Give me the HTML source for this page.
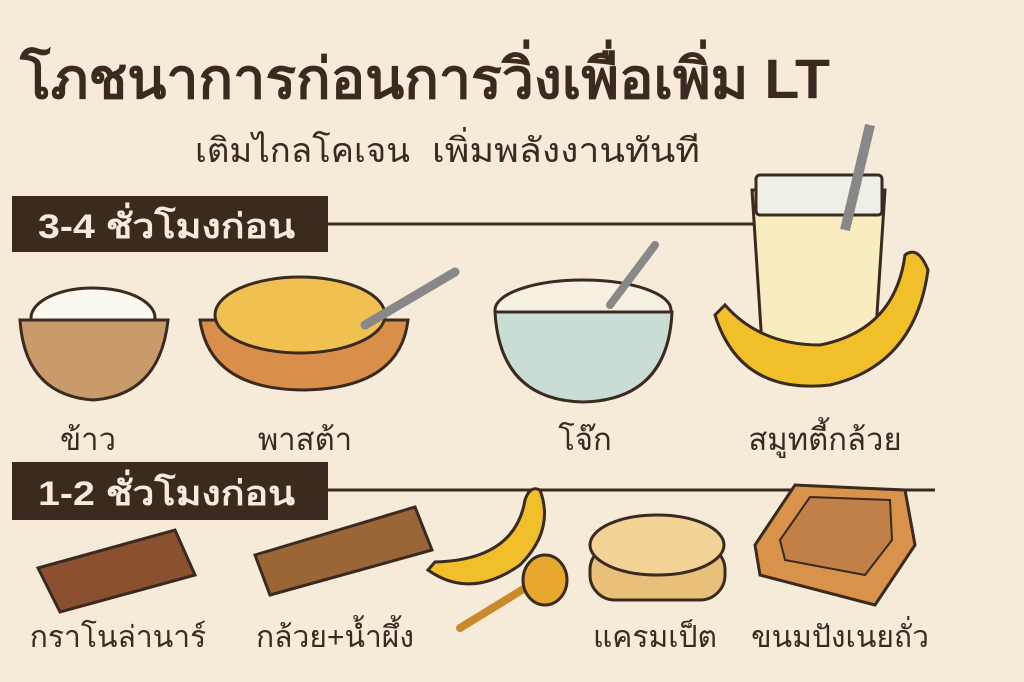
<!DOCTYPE html>
<html><head><meta charset="utf-8"><style>
html,body{margin:0;padding:0;background:#f6ebd9;}
svg{display:block}
text{font-family:"Liberation Sans","Noto Sans CJK SC","WenQuanYi Zen Hei",sans-serif;}
</style></head><body>
<svg width="1024" height="682" viewBox="0 0 1024 682" xmlns="http://www.w3.org/2000/svg">
<rect width="1024" height="682" fill="#f6ebd9"/>
<text x="20" y="98" font-size="56" font-weight="bold" fill="#3a2a1f" textLength="810" lengthAdjust="spacingAndGlyphs">โภชนาการก่อนการวิ่งเพื่อเพิ่ม LT</text>
<text x="195" y="162" font-size="34" fill="#3a2a1f" textLength="215" lengthAdjust="spacingAndGlyphs">เติมไกลโคเจน</text>
<text x="432" y="162" font-size="34" fill="#3a2a1f" textLength="268" lengthAdjust="spacingAndGlyphs">เพิ่มพลังงานทันที</text>

<line x1="320" y1="224" x2="760" y2="224" stroke="#3a2a1f" stroke-width="3"/>
<rect x="12" y="196" width="316" height="56" fill="#3b2a1f"/>
<text x="38" y="238" font-size="34" font-weight="bold" fill="#f6ebd9" textLength="257" lengthAdjust="spacingAndGlyphs">3-4 ชั่วโมงก่อน</text>
<line x1="320" y1="490" x2="935" y2="490" stroke="#3a2a1f" stroke-width="3"/>
<rect x="12" y="462" width="316" height="58" fill="#3b2a1f"/>
<text x="38" y="505" font-size="34" font-weight="bold" fill="#f6ebd9" textLength="257" lengthAdjust="spacingAndGlyphs">1-2 ชั่วโมงก่อน</text>

<!-- rice -->
<ellipse cx="93" cy="318" rx="62" ry="30" fill="#fbf8f0" stroke="#3a2a1f" stroke-width="3"/>
<path d="M20 320 Q25 395 93 400 Q160 395 168 320 Z" fill="#c99a6a" stroke="#3a2a1f" stroke-width="3"/>
<!-- pasta -->
<path d="M200 320 Q210 390 305 390 Q400 388 408 320 Z" fill="#d98f4a" stroke="#3a2a1f" stroke-width="3"/>
<ellipse cx="300" cy="315" rx="85" ry="38" fill="#f0c050" stroke="#3a2a1f" stroke-width="3"/>
<line x1="365" y1="325" x2="455" y2="272" stroke="#888" stroke-width="9" stroke-linecap="round"/>
<!-- porridge -->
<ellipse cx="583" cy="310" rx="88" ry="30" fill="#f6f0e2" stroke="#3a2a1f" stroke-width="3"/>
<path d="M495 312 Q500 400 583 402 Q668 400 672 312 Z" fill="#c9dcd6" stroke="#3a2a1f" stroke-width="3"/>
<line x1="610" y1="305" x2="655" y2="245" stroke="#888" stroke-width="8" stroke-linecap="round"/>
<!-- smoothie -->
<path d="M752 190 L885 190 L875 345 L762 345 Z" fill="#f8ecc0" stroke="#3a2a1f" stroke-width="3"/>
<rect x="756" y="175" width="126" height="40" fill="#eef0e8" stroke="#3a2a1f" stroke-width="3" rx="4"/>
<line x1="845" y1="230" x2="870" y2="125" stroke="#888" stroke-width="10"/>
<path d="M715 315 Q740 395 830 385 Q915 365 928 270 Q918 245 905 255 Q895 330 820 345 Q760 345 725 305 Z" fill="#f0bf2a" stroke="#3a2a1f" stroke-width="3"/>
<text x="88" y="450" font-size="31" text-anchor="middle" fill="#3a2a1f">ข้าว</text>
<text x="305" y="450" font-size="31" text-anchor="middle" fill="#3a2a1f">พาสต้า</text>
<text x="585" y="450" font-size="31" text-anchor="middle" fill="#3a2a1f">โจ๊ก</text>
<text x="825" y="450" font-size="31" text-anchor="middle" fill="#3a2a1f">สมูทตี้กล้วย</text>

<!-- row 2 -->
<path d="M38 568 L175 530 L195 575 L60 612 Z" fill="#8a5030" stroke="#3a2a1f" stroke-width="3"/>
<path d="M255 555 L415 507 L432 550 L270 595 Z" fill="#9a6638" stroke="#3a2a1f" stroke-width="3"/>
<path d="M428 570 Q470 600 520 565 Q555 530 540 490 Q530 485 525 500 Q515 560 435 562 Z" fill="#f0bf2a" stroke="#3a2a1f" stroke-width="3"/>
<line x1="460" y1="628" x2="530" y2="585" stroke="#c88a2a" stroke-width="8" stroke-linecap="round"/>
<ellipse cx="545" cy="580" rx="22" ry="25" fill="#e8a830" stroke="#3a2a1f" stroke-width="3"/>
<rect x="590" y="545" width="135" height="55" rx="25" fill="#e8c07a" stroke="#3a2a1f" stroke-width="3"/>
<ellipse cx="657" cy="545" rx="67" ry="30" fill="#f2d395" stroke="#3a2a1f" stroke-width="3"/>
<path d="M755 545 L795 485 L905 490 L915 545 L875 605 L760 575 Z" fill="#d9924a" stroke="#3a2a1f" stroke-width="3"/>
<path d="M780 540 L810 497 L890 500 L892 540 L865 575 L785 560 Z" fill="#c08048" stroke="#3a2a1f" stroke-width="2"/>
<text x="118" y="647" font-size="30" text-anchor="middle" fill="#3a2a1f">กราโนล่านาร์</text>
<text x="335" y="647" font-size="30" text-anchor="middle" fill="#3a2a1f">กล้วย+น้ำผึ้ง</text>
<text x="655" y="647" font-size="30" text-anchor="middle" fill="#3a2a1f">แครมเป็ต</text>
<text x="840" y="647" font-size="30" text-anchor="middle" fill="#3a2a1f">ขนมปังเนยถั่ว</text>
</svg>
</body></html>
